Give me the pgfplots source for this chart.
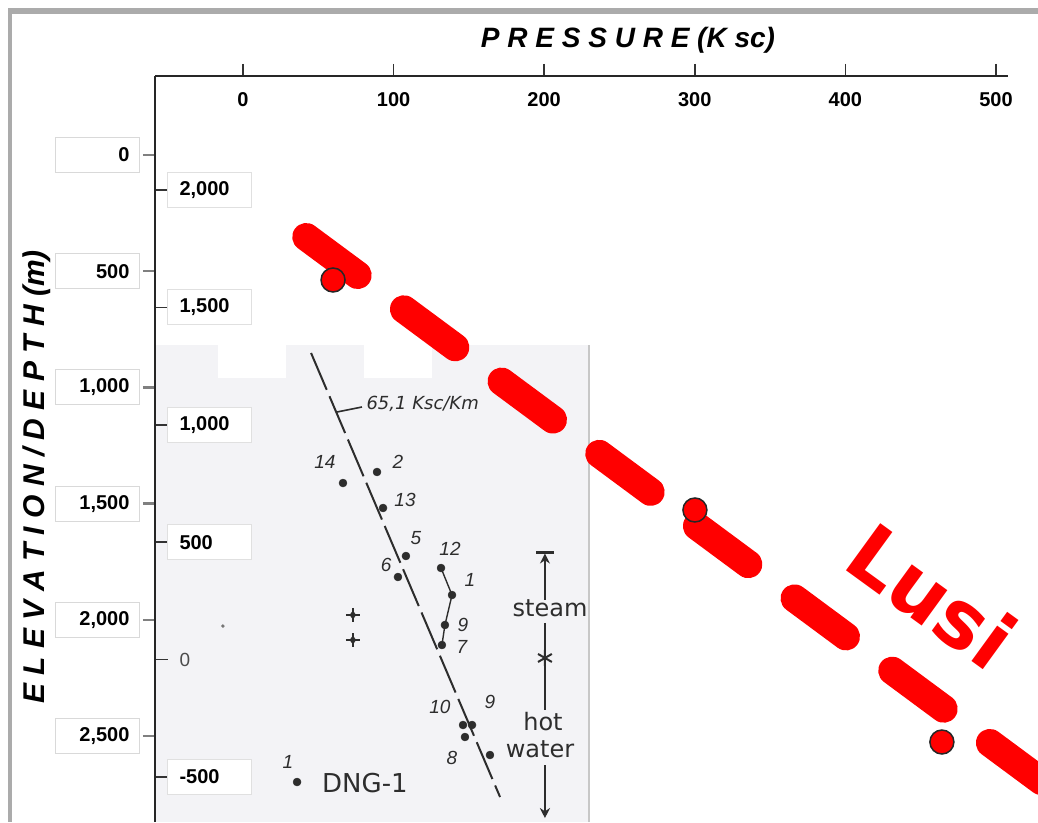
\documentclass[border=0pt]{standalone}
\usepackage{fontspec}
\setmainfont{Liberation Sans}
\newfontfamily\dejavu{DejaVu Sans}
\usepackage{pgfplots}
\pgfplotsset{compat=1.18}
\usetikzlibrary{arrows.meta}
\definecolor{lusired}{RGB}{255,0,0}
\definecolor{insetbg}{RGB}{243,243,246}
\definecolor{ink}{RGB}{45,45,45}
\newcommand{\fs}[1]{\fontsize{#1}{#1}\selectfont}

\begin{document}
\begin{tikzpicture}[x=1pt,y=1pt]
\useasboundingbox (0,0) rectangle (1038,822);
\fill[white] (0,0) rectangle (1038,822);
% frame
\fill[black!33] (8,808) rectangle (1038,814);
\fill[black!33] (8,0) rectangle (12,814);
% inset background
\fill[insetbg] (155,0) rectangle (589,477);
\fill[white] (218,444) rectangle (286,477);
\fill[white] (364,444) rectangle (432,477);
\draw[black!22, line width=2.5pt] (589,0) -- (589,477);

% ---------- inset (elevation) axis ----------
\begin{axis}[
  at={(155pt,0pt)}, anchor=south west,
  scale only axis, width=853pt, height=746pt,
  xmin=-58.43, xmax=508.0, ymin=-691.6, ymax=2485.5,
  clip=false,
  hide x axis, axis y line*=left,
  y axis line style={draw=none},
  ytick={-500,500,1000,1500,2000},
  yticklabels={-500,500,{1,000},{1,500},{2,000}},
  tick align=inside, major tick length=13pt,
  y tick style={black!80, line width=1.6pt},
  yticklabel style={anchor=west, xshift=12pt, draw=black!12, line width=1pt, fill=white,
     text width=60pt, align=left, inner xsep=12pt, minimum height=35pt,
     font=\bfseries\fs{20}},
  extra y ticks={0}, extra y tick labels={0},
  extra y tick style={yticklabel style={draw=none, fill=none, font=\fs{19}, text=black!70}},
]
% gradient line
\addplot[ink, line width=2pt, dash pattern=on 40pt off 7pt] coordinates {(45.2,1305.8) (170.7,-585.2)};
\addplot[ink, line width=1.6pt] coordinates {(62.4,1054.5) (79.0,1075.8)};
\addplot[ink, line width=1.4pt] coordinates {(131.5,390.1) (138.8,275.1) (134.1,147.4) (132.1,62.2)};
% well points
\addplot[only marks, mark=*, mark size=4pt, ink] coordinates {
 (66.4,752.1) (89.0,799.0) (93.0,645.7) (108.2,441.2) (131.5,390.1) (102.9,351.8)
 (138.8,275.1) (134.1,147.4) (132.1,62.2) (146.1,-278.5) (152.1,-278.5) (147.4,-329.6)
 (164.0,-406.3) (35.9,-521.3)};
\addplot[only marks, mark=+, mark size=7pt, ink, line width=2.5pt] coordinates {(73.0,190.0) (73.0,83.5)};
\addplot[only marks, mark=diamond*, mark size=4pt, ink] coordinates {(73.0,190.0) (73.0,83.5)};
\addplot[only marks, mark=*, mark size=1.5pt, black!55] coordinates {(-13.3,143.1)};
% steam / hot water bar
\addplot[ink, line width=1.8pt, -{Stealth[length=10pt,width=10pt]}] coordinates {(200.5,254) (200.5,452)};
\addplot[only marks, mark=-, mark size=9pt, ink, line width=2.2pt] coordinates {(200.5,456)};
\addplot[ink, line width=1.8pt] coordinates {(200.5,156) (200.5,-215)};
\addplot[only marks, mark=asterisk, mark size=8pt, ink, line width=2pt] coordinates {(200.5,7)};
\addplot[ink, line width=1.8pt, -{Stealth[length=10pt,width=10pt]}] coordinates {(200.5,-449) (200.5,-675)};
% labels
\node[font=\itshape\fs{19}, text=ink] at (axis cs:54.4,841.6) {14};
\node[font=\itshape\fs{19}, text=ink] at (axis cs:102.9,841.6) {2};
\node[font=\itshape\fs{19}, text=ink] at (axis cs:107.6,679.8) {13};
\node[font=\itshape\fs{19}, text=ink] at (axis cs:114.9,517.9) {5};
\node[font=\itshape\fs{19}, text=ink] at (axis cs:137.5,471.1) {12};
\node[font=\itshape\fs{19}, text=ink] at (axis cs:95.0,403.0) {6};
\node[font=\itshape\fs{19}, text=ink] at (axis cs:150.7,339.0) {1};
\node[font=\itshape\fs{19}, text=ink] at (axis cs:146.1,147.4) {9};
\node[font=\itshape\fs{19}, text=ink] at (axis cs:145.4,53.7) {7};
\node[font=\itshape\fs{19}, text=ink] at (axis cs:130.8,-201.8) {10};
\node[font=\itshape\fs{19}, text=ink] at (axis cs:164.0,-180.6) {9};
\node[font=\itshape\fs{19}, text=ink] at (axis cs:138.8,-419.1) {8};
\node[font=\itshape\fs{19}, text=ink] at (axis cs:29.9,-436.1) {1};
\node[font=\dejavu\fs{26}, text=ink] at (axis cs:81.0,-525.5) {DNG-1};
\node[font=\dejavu\itshape\fs{18}, text=ink, anchor=west] at (axis cs:79.7,1088.6) {65,1 Ksc/Km};
\node[font=\dejavu\fs{24}, text=ink] at (axis cs:203.9,219.8) {steam};
\node[font=\dejavu\fs{24}, text=ink] at (axis cs:199.2,-265.7) {hot};
\node[font=\dejavu\fs{24}, text=ink] at (axis cs:197.2,-380.7) {water};
\end{axis}

% ---------- main (pressure / depth) axis ----------
\begin{axis}[
  at={(155pt,0pt)}, anchor=south west,
  scale only axis, width=853pt, height=746pt,
  xmin=-58.43, xmax=508.0, ymin=-2870, ymax=339.9,
  clip=false,
  axis x line*=top, axis y line*=left,
  axis line style={black!85, line width=2.6pt},
  xtick={0,100,200,300,400,500},
  xticklabels={0,100,200,300,400,500},
  ytick={-2500,-2000,-1500,-1000,-500,0},
  yticklabels={{2,500},{2,000},{1,500},{1,000},500,0},
  tick align=outside, major tick length=12pt,
  x tick style={black!80, line width=1.6pt},
  y tick style={black!50, line width=2.4pt},
  xticklabel style={anchor=north, yshift=-25pt, font=\bfseries\fs{20}},
  yticklabel style={anchor=east, xshift=-3pt, draw=black!15, line width=1pt, fill=white,
     text width=64pt, align=right, inner xsep=10pt, minimum height=35pt,
     font=\bfseries\fs{20}},
]
\addplot[only marks, mark=*, mark size=12pt, mark options={fill=lusired, draw=black!85, line width=1.5pt}]
  coordinates {(59.8,-537.9) (300.1,-1527.5) (464.1,-2525.8)};
\addplot[lusired, line width=28pt, line cap=round, dash pattern=on 64pt off 57.5pt]
  coordinates {(42.0,-352.8) (530.3,-2694.5)};
\node[rotate=-36, text=lusired, font=\dejavu\bfseries\fs{80}] at (axis cs:457.5,-1897.6) {Lusi};
\end{axis}

\node[font=\bfseries\itshape\fs{28}] at (628,782) {P R E S S U R E (K sc)};
\node[rotate=90, font=\bfseries\itshape\fs{30}] at (37,345) {E L E V A T I O N / D E P T H (m)};
\end{tikzpicture}
\end{document}
